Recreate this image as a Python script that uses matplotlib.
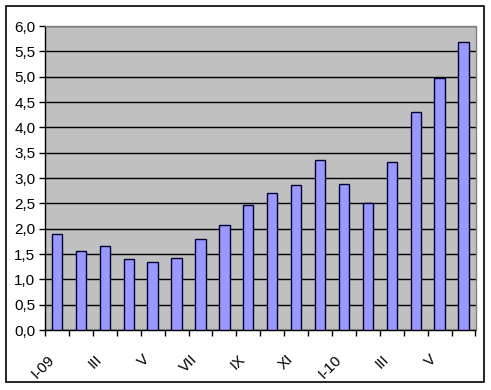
import matplotlib
matplotlib.use('Agg')
import matplotlib.pyplot as plt
from matplotlib.patches import Rectangle
from matplotlib.ticker import FuncFormatter, FixedLocator

# monthly values, I-09 .. VI-10
months = ['I-09', 'II', 'III', 'IV', 'V', 'VI', 'VII', 'VIII', 'IX', 'X', 'XI', 'XII',
          'I-10', 'II', 'III', 'IV', 'V', 'VI']
values = [1.89, 1.56, 1.66, 1.40, 1.35, 1.42, 1.80, 2.07, 2.47, 2.70, 2.86, 3.35,
          2.88, 2.50, 3.32, 4.30, 4.97, 5.68]
y_ticks = [0, 0.5, 1, 1.5, 2, 2.5, 3, 3.5, 4, 4.5, 5, 5.5, 6]

plt.rcParams['font.family'] = ['Liberation Sans', 'DejaVu Sans']

fig = plt.figure(figsize=(4.91, 3.90), dpi=100)
ax = fig.add_axes([45/491, 1 - 330/390, 430.5/491, 304/390])

# outer chart frame
fig.patches.append(Rectangle((6/491, 1 - 382/390), 478/491, 376/390,
                             transform=fig.transFigure, fill=False,
                             edgecolor='black', linewidth=1.2))

x = list(range(len(values)))
ax.bar(x, values, width=0.43, color='#9999ff', edgecolor='#000033', linewidth=1.0, zorder=3)

ax.set_facecolor('#c0c0c0')
ax.set_xlim(-0.5, len(values) - 0.5)
ax.set_ylim(0, 6)
ax.set_yticks(y_ticks)
ax.yaxis.set_major_formatter(FuncFormatter(lambda v, p: f'{v:.1f}'.replace('.', ',')))
ax.yaxis.grid(True, color='black', linewidth=1.0)
ax.set_axisbelow(True)

# tick marks at category boundaries, labels on every other month
ax.xaxis.set_major_locator(FixedLocator([i - 0.5 for i in range(len(values) + 1)]))
ax.xaxis.set_major_formatter(FuncFormatter(lambda v, p: ''))
ax.xaxis.set_minor_locator(FixedLocator(x[::2]))
ax.set_xticklabels([months[i] for i in x[::2]], minor=True, rotation=45, ha='right', va='top')
ax.tick_params(axis='x', which='minor', length=0, pad=16, labelsize=11)
ax.tick_params(axis='x', which='major', length=4, width=1, color='black', direction='out')
ax.tick_params(axis='y', length=4, width=1, direction='out', pad=3, labelsize=11)

for s in ['left', 'bottom']:
    ax.spines[s].set_color('black')
    ax.spines[s].set_linewidth(1.0)
for s in ['top', 'right']:
    ax.spines[s].set_color('#808080')
    ax.spines[s].set_linewidth(1.0)

fig.savefig('out.png', dpi=100, facecolor='white')
